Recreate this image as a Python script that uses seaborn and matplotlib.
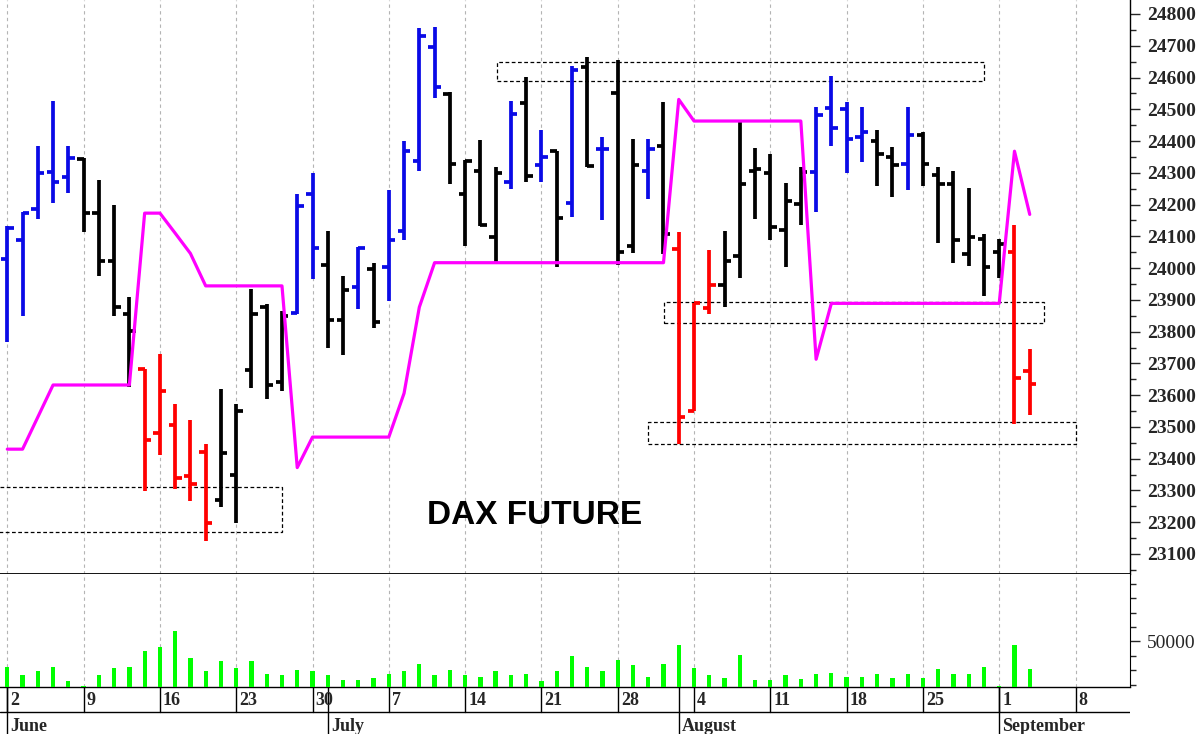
import numpy as np
import pandas as pd
import matplotlib
matplotlib.use("Agg")
import matplotlib.pyplot as plt
import seaborn as sns
from matplotlib.patches import Rectangle

# ---------------- data ----------------
dates = pd.bdate_range("2025-06-02", "2025-09-03")  # 68 trading days

opens = [24029, 24087, 24187, 24303, 24286, 24342, 24173, 24023, 23856, 23682,
         23480, 23505, 23345, 23421, 23269, 23349, 23678, 23877, 23643, 23859,
         24233, 24011, 23836, 23941, 23996, 24005, 24116, 24338, 24697, 24549,
         24233, 24306, 24099, 24272, 24520, 24323, 24368, 24204, 24633, 24374,
         24552, 24070, 24307, 24383, 24060, 23550, 23875, 23947, 24038, 24307,
         24300, 24120, 24202, 24303, 24504, 24502, 24414, 24400, 24350, 24327,
         24420, 24292, 24266, 24043, 24093, 24052, 24052, 23676]
highs = [24132, 24178, 24384, 24526, 24384, 24347, 24278, 24198, 23908, 23682,
         23731, 23573, 23521, 23445, 23620, 23573, 23935, 23886, 23865, 24233,
         24300, 24116, 23976, 24066, 24017, 24245, 24399, 24756, 24759, 24555,
         24341, 24403, 24317, 24526, 24601, 24435, 24370, 24636, 24666, 24414,
         24656, 24405, 24405, 24522, 24113, 23891, 24057, 24116, 24465, 24379,
         24358, 24268, 24319, 24506, 24605, 24523, 24506, 24434, 24382, 24506,
         24428, 24319, 24307, 24253, 24108, 24093, 24136, 23746]
lows = [23766, 23848, 24155, 24206, 24237, 24114, 23976, 23850, 23626, 23299,
        23412, 23304, 23266, 23141, 23248, 23197, 23622, 23587, 23614, 23856,
        23965, 23748, 23727, 23871, 23810, 23898, 24087, 24306, 24535, 24265,
        24070, 24134, 24017, 24249, 24271, 24272, 24003, 24161, 24319, 24152,
        24011, 24046, 24216, 24043, 23447, 23550, 23854, 23877, 23970, 24155,
        24090, 24005, 24136, 24178, 24385, 24298, 24333, 24259, 24224, 24247,
        24259, 24079, 24015, 24008, 23912, 23968, 23509, 23536]
closes = [24125, 24173, 24300, 24271, 24347, 24173, 24023, 23877, 23803, 23459,
          23614, 23340, 23320, 23196, 23419, 23550, 23854, 23632, 23848, 24195,
          24064, 23836, 23930, 24062, 23830, 24087, 24368, 24730, 24570, 24327,
          24336, 24137, 24298, 24485, 24289, 24350, 24157, 24625, 24321, 24376,
          24052, 24323, 24374, 24108, 23530, 23891, 23947, 24023, 24266, 24313,
          24129, 24210, 24303, 24482, 24440, 24405, 24428, 24358, 24323, 24418,
          24329, 24266, 24087, 24099, 24005, 24076, 23655, 23635]
# bar colour code: b = blue, k = black, r = red
bar_code = list("bbbbbkkkkrrrrrkkkkkbbkkbkbbbbkkkkbkbkbkbkkbkrrrkkkkkkbbbbkkbkkkkkkrr")

stop_line = [23430, 23430, 23531, 23632, 23632, 23632, 23632, 23632, 23632, 24173,
             24173, 24110, 24046, 23944, 23944, 23944, 23944, 23944, 23944, 23372,
             23468, 23468, 23468, 23468, 23468, 23468, 23606, 23877, 24017, 24017,
             24017, 24017, 24017, 24017, 24017, 24017, 24017, 24017, 24017, 24017,
             24017, 24017, 24017, 24017, 24531, 24463, 24463, 24463, 24463, 24463,
             24463, 24463, 24463, 23713, 23889, 23889, 23889, 23889, 23889, 23889,
             23889, 23889, 23889, 23889, 23889, 23889, 24368, 24169]

volume = [31950, 26320, 29370, 31950, 22320, 19040, 26320, 31250, 31950, 43450,
          46030, 57530, 38290, 29370, 36410, 31250, 36410, 27020, 26320, 30300,
          29600, 26320, 23500, 23500, 24440, 27250, 29370, 34300, 26320, 30070,
          26320, 25140, 29370, 26320, 27250, 22320, 29370, 40160, 31950, 29370,
          37110, 33360, 25140, 34300, 47210, 31250, 26320, 24440, 40400, 23260,
          23030, 26320, 24200, 27250, 28190, 25140, 25140, 27250, 24440, 27250,
          24440, 30540, 27250, 27250, 32420, 19040, 47210, 30780]

# zones: (start trading-day index, end index, low, high)
zone_start = [-1.0, 32.1, 43.05, 42.0]
zone_end = [18.0, 64.0, 67.95, 70.0]
zone_low = [23168, 24590, 23828, 23447]
zone_high = [23310, 24650, 23894, 23517]

title_text = "DAX FUTURE"
price_ticks = list(range(23100, 24801, 100))
month_names = ["June", "July", "August", "September"]

# ---------------- styling ----------------
sns.set_style("white")
plt.rcParams["font.family"] = ["Liberation Serif", "DejaVu Serif"]

colour_map = {"b": "#0a0ae6", "k": "#000000", "r": "#ff0000"}
cols = [colour_map[c] for c in bar_code]

idx = np.arange(len(dates))
start = dates[0]
def day_index(d):
    return np.busday_count(start.date(), pd.Timestamp(d).date())

xmin, xmax = -0.478, 73.57

fig = plt.figure(figsize=(12, 7.34), dpi=100)
W, H = 1200, 734
def rect(x0, y0, x1, y1):
    return [x0 / W, 1 - y1 / H, (x1 - x0) / W, (y1 - y0) / H]

ax = fig.add_axes(rect(0, 0, 1130, 574))
axv = fig.add_axes(rect(0, 574, 1130, 687))
axd = fig.add_axes(rect(0, 687, 1130, 734))

mondays = pd.date_range("2025-06-02", "2025-09-08", freq="W-MON")
mon_pos = [day_index(m) for m in mondays]

grid_kw = dict(color="#b4b4b4", linewidth=0.8, linestyle=(0, (3, 3)), zorder=0)
for a in (ax, axv):
    for p in mon_pos:
        a.axvline(p, **grid_kw)

# ---------------- price panel ----------------
bar_lw = 2.7
ax.vlines(idx, lows, highs, colors=cols, linewidth=bar_lw, zorder=3)
ax.hlines(opens, idx - 0.42, idx, colors=cols, linewidth=bar_lw, zorder=3)
ax.hlines(closes, idx, idx + 0.42, colors=cols, linewidth=bar_lw, zorder=3)

sns.lineplot(x=idx, y=stop_line, color="#ff00ff", linewidth=2.3, ax=ax, zorder=4)

for s, e, lo, hi in zip(zone_start, zone_end, zone_low, zone_high):
    ax.add_patch(Rectangle((s, lo), e - s, hi - lo, fill=False, edgecolor="black",
                           linewidth=0.9, linestyle=(0, (3, 2)), zorder=2))

ax.text(27.5, 23222, title_text, fontsize=24, fontweight="bold",
        family=["Liberation Sans", "DejaVu Sans"], ha="left", va="center", color="black")

ax.set_xlim(xmin, xmax)
ax.set_ylim(23037, 24844)
ax.yaxis.tick_right()
ax.set_yticks(price_ticks)
ax.set_yticklabels([str(t) for t in price_ticks], fontsize=14, fontweight="bold")
ax.set_yticks(list(range(23050, 24850, 100)), minor=True)
ax.tick_params(axis="y", which="major", length=7, width=1, pad=5, right=True, left=False)
ax.tick_params(axis="y", which="minor", length=4.5, width=1, right=True, left=False)
ax.set_xticks([])
ax.set_xlabel("")
ax.set_ylabel("")
for side in ("top", "left"):
    ax.spines[side].set_visible(False)
ax.spines["right"].set_color("black")
ax.spines["bottom"].set_color("black")
ax.spines["bottom"].set_linewidth(1.3)
ax.spines["right"].set_linewidth(1.0)
if ax.get_legend():
    ax.get_legend().remove()

# ---------------- volume panel ----------------
vol_df = pd.DataFrame({"i": idx, "vol": volume})
sns.barplot(data=vol_df, x="i", y="vol", native_scale=True, color="#00ff00",
            width=0.28, errorbar=None, linewidth=0, saturation=1, ax=axv, zorder=3)
axv.set_xlim(xmin, xmax)
axv.set_ylim(18310, 96970)
axv.yaxis.tick_right()
axv.set_yticks([50000])
axv.set_yticklabels(["50000"], fontsize=14)
axv.set_yticks(list(range(20000, 96000, 10000)), minor=True)
axv.tick_params(axis="y", which="major", length=7, width=1, pad=5, right=True, left=False)
axv.tick_params(axis="y", which="minor", length=4.5, width=1, right=True, left=False)
axv.set_xticks([])
axv.set_xlabel("")
axv.set_ylabel("")
for side in ("top", "left"):
    axv.spines[side].set_visible(False)
axv.spines["right"].set_color("black")
axv.spines["bottom"].set_color("black")
axv.spines["bottom"].set_linewidth(1.0)

# ---------------- date axis ----------------
axd.set_xlim(xmin, xmax)
axd.set_ylim(0, 1)
axd.axis("off")
row_split = 0.474
axd.axhline(row_split, color="black", linewidth=1.0)
for m, p in zip(mondays, mon_pos):
    axd.plot([p, p], [row_split, 1], color="black", linewidth=1.0)
    axd.text(p + 0.2, 0.72, str(m.day), fontsize=13, fontweight="bold",
             ha="left", va="center")
month_starts = [dates[dates.month == mo][0] for mo in (6, 7, 8, 9)]
for name, d in zip(month_names, month_starts):
    p = day_index(d)
    axd.plot([p, p], [0, 1], color="black", linewidth=1.0)
    axd.text(p + 0.2, 0.17, name, fontsize=13, fontweight="bold", ha="left", va="center")

fig.savefig("out.png", dpi=100)
